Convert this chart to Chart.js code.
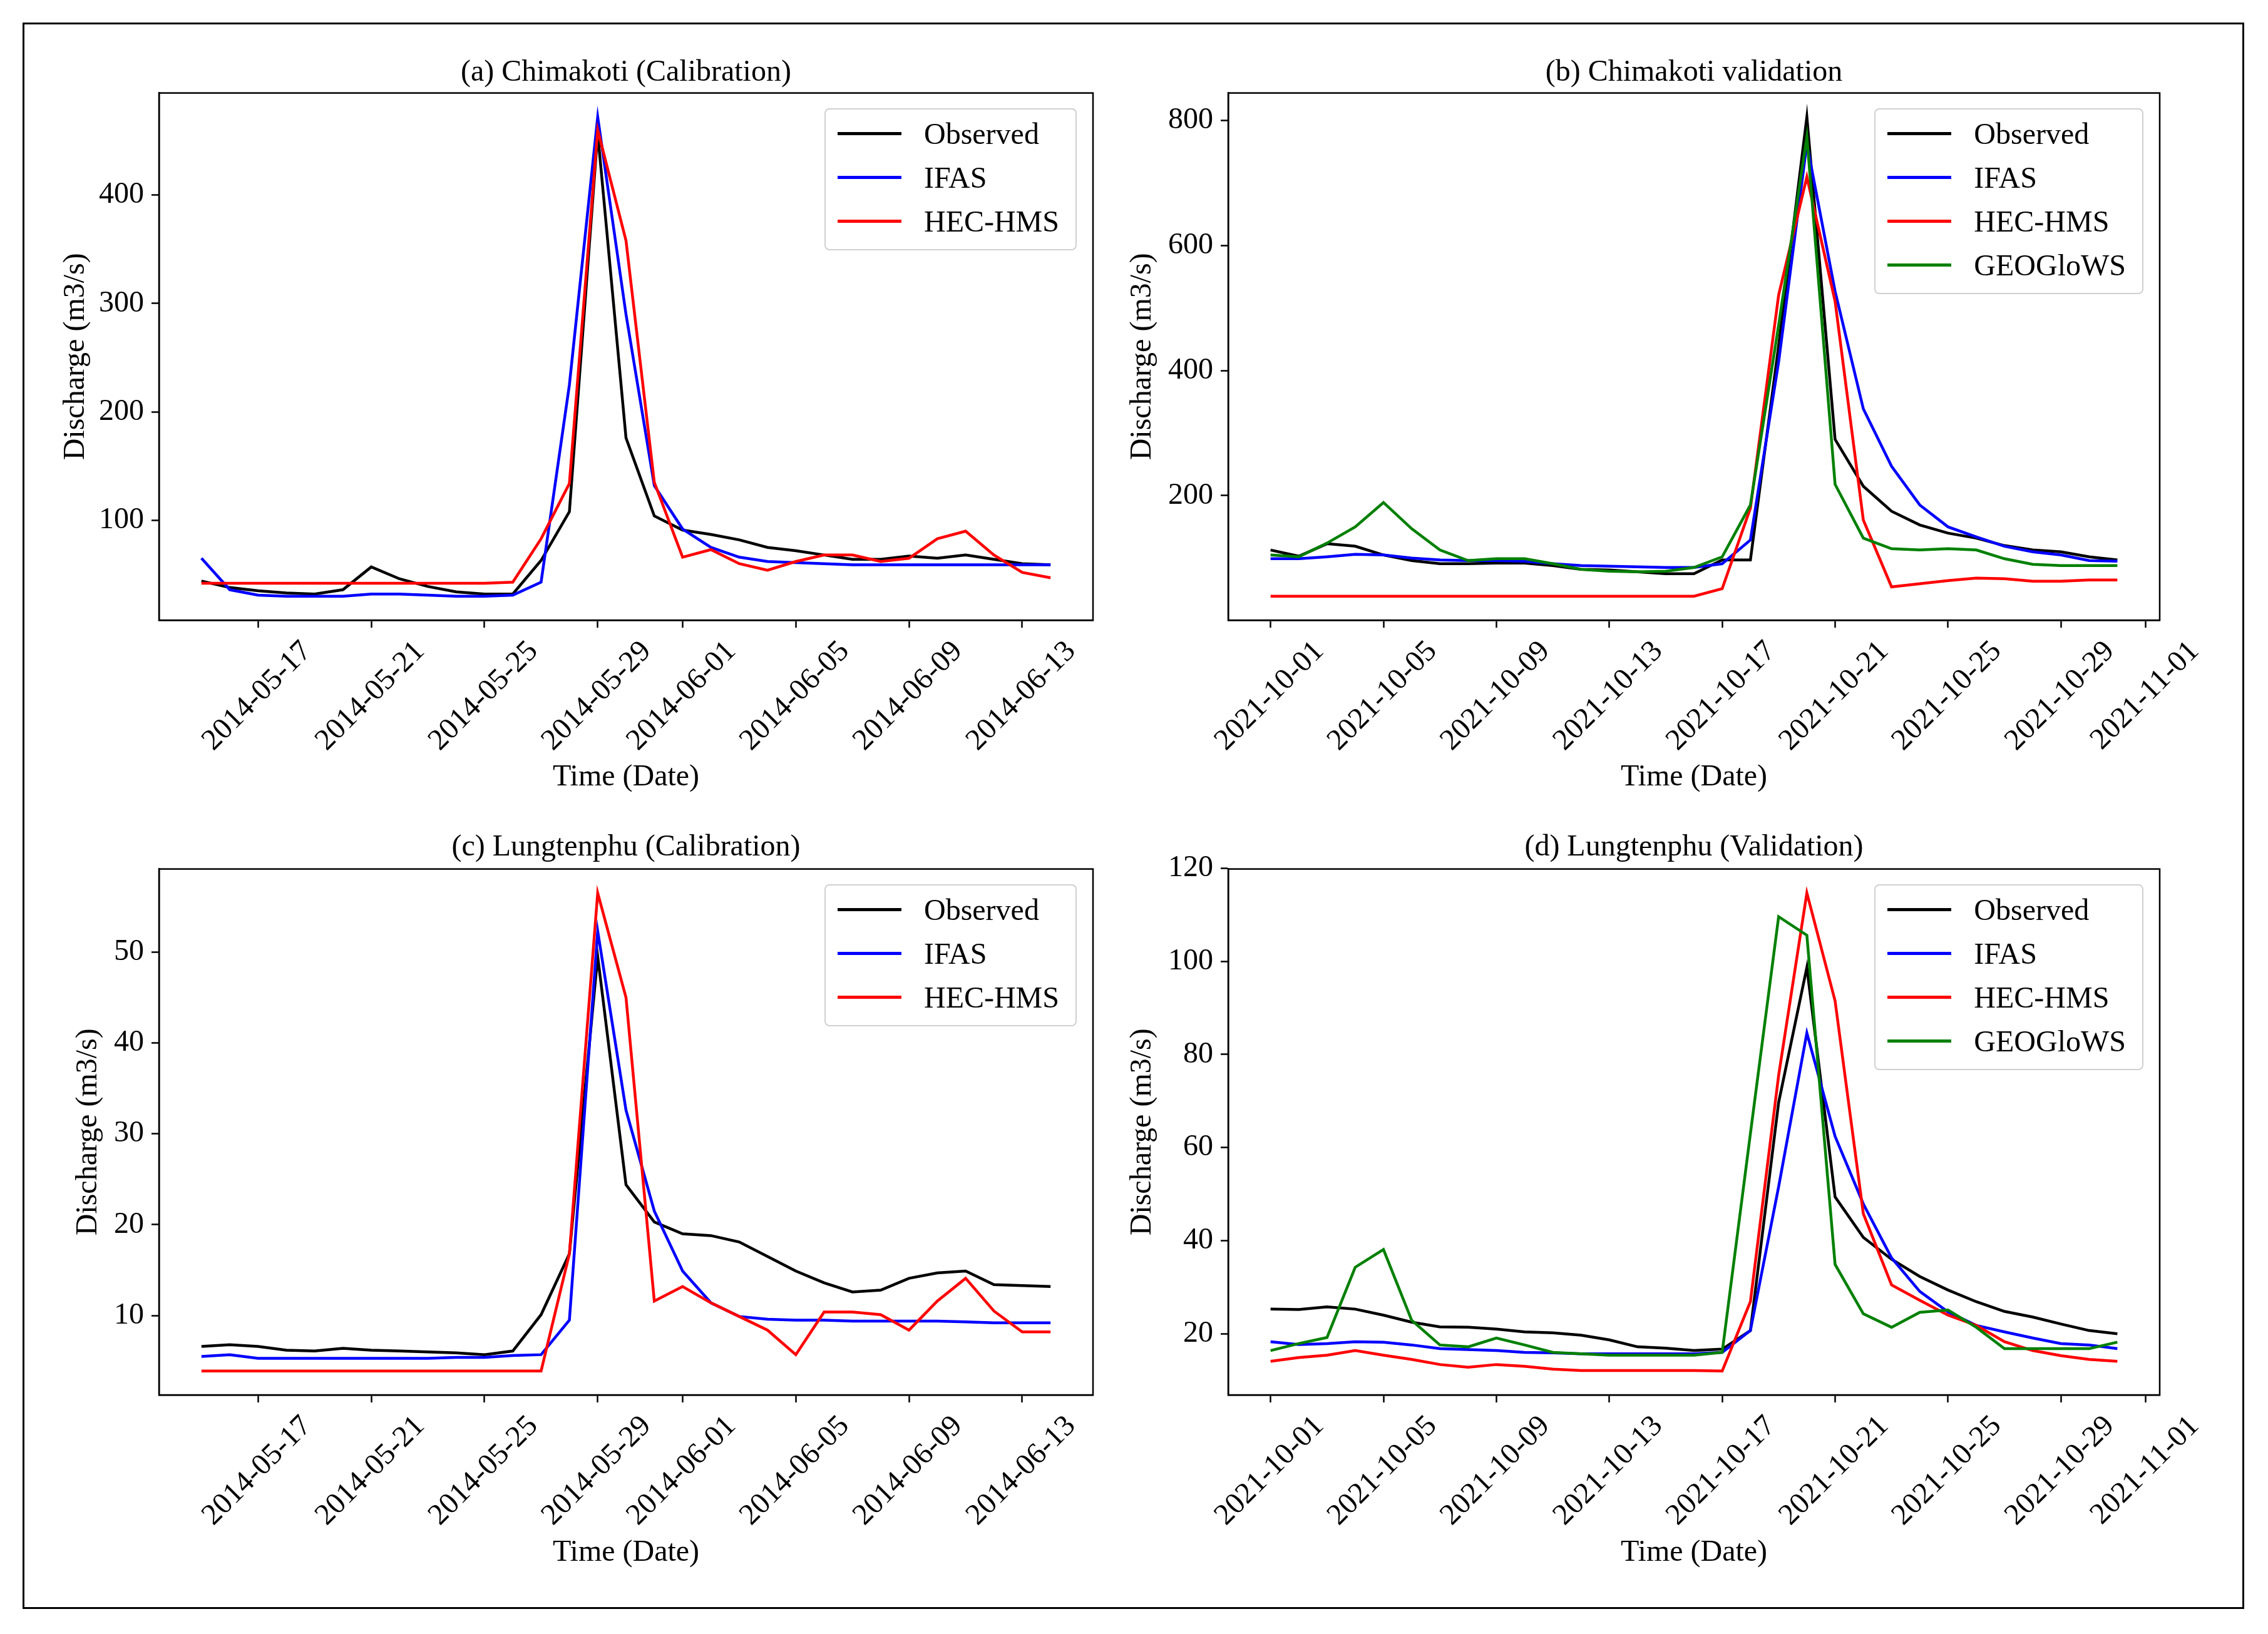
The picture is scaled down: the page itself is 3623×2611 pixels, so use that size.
<!DOCTYPE html>
<html>
<head>
<meta charset="utf-8">
<title>Discharge hydrographs</title>
<script src="https://cdn.jsdelivr.net/npm/chart.js@4.4.1/dist/chart.umd.min.js"></script>
<style>
  html, body { margin: 0; padding: 0; background: #fff; }
  body { width: 3623px; height: 2611px; position: relative; overflow: hidden; font-family: "Liberation Serif", serif; }
  .frame { position: absolute; left: 36px; top: 36px; width: 3549px; height: 2535px; border: 3px solid #000; box-sizing: border-box; }
  .panel { position: absolute; }
  .legend { position: absolute; background: rgba(255,255,255,0.85); border: 2px solid #d0d0d0; border-radius: 8px; padding: 4px 26px 9px 19px; }
  .legend .row { height: 70px; display: flex; align-items: center; font-size: 48px; color: #000; white-space: nowrap; }
  .legend .swatch { display: inline-block; width: 102px; height: 5px; margin-right: 36px; }
</style>
</head>
<body>
<div class="frame"></div>
<script>
// x: one value per day, starting at these dates
const calStart = '2014-05-15';
const valStart = '2021-10-01';

const calTicks = ['2014-05-17', '2014-05-21', '2014-05-25', '2014-05-29', '2014-06-01', '2014-06-05', '2014-06-09', '2014-06-13'];
const valTicks = ['2021-10-01', '2021-10-05', '2021-10-09', '2021-10-13', '2021-10-17', '2021-10-21', '2021-10-25', '2021-10-29', '2021-11-01'];

const yTicksA = [100, 200, 300, 400];
const yTicksB = [200, 400, 600, 800];
const yTicksC = [10, 20, 30, 40, 50];
const yTicksD = [20, 40, 60, 80, 100, 120];

// (a) Chimakoti calibration
const chimCalObserved = [44, 38, 35, 33, 32, 36, 57, 46, 39, 34, 32, 32, 63, 108, 457, 176, 104, 91, 87, 82, 75, 72, 68, 64, 64, 67, 65, 68, 64, 60, 59];
const chimCalIFAS = [65, 36, 31, 30, 30, 30, 32, 32, 31, 30, 30, 31, 43, 225, 472, 290, 132, 92, 75, 66, 62, 61, 60, 59, 59, 59, 59, 59, 59, 59, 59];
const chimCalHEC = [42, 42, 42, 42, 42, 42, 42, 42, 42, 42, 42, 43, 83, 134, 460, 358, 135, 66, 73, 60, 54, 62, 68, 68, 62, 65, 83, 90, 68, 52, 47];

// (b) Chimakoti validation
const chimValObserved = [113, 103, 123, 119, 105, 96, 91, 91, 92, 92, 88, 82, 81, 78, 75, 75, 97, 97, 440, 806, 290, 215, 175, 153, 140, 132, 120, 113, 110, 102, 97];
const chimValIFAS = [99, 99, 102, 106, 105, 100, 97, 96, 96, 95, 91, 88, 87, 86, 85, 85, 91, 129, 414, 763, 527, 339, 247, 185, 150, 134, 119, 110, 105, 96, 95];
const chimValHEC = [39, 39, 39, 39, 39, 39, 39, 39, 39, 39, 39, 39, 39, 39, 39, 39, 51, 180, 521, 710, 511, 161, 54, 59, 64, 68, 67, 63, 63, 65, 65];
const chimValGEO = [105, 102, 124, 150, 189, 147, 113, 96, 99, 99, 91, 82, 79, 78, 79, 85, 102, 185, 473, 774, 218, 132, 115, 113, 115, 113, 99, 90, 88, 88, 88];

// (c) Lungtenphu calibration
const lungCalObserved = [6.6, 6.8, 6.6, 6.2, 6.1, 6.4, 6.2, 6.1, 6.0, 5.9, 5.7, 6.1, 10.1, 16.8, 49.5, 24.4, 20.3, 19.0, 18.8, 18.1, 16.5, 14.9, 13.6, 12.6, 12.8, 14.1, 14.7, 14.9, 13.4, 13.3, 13.2];
const lungCalIFAS = [5.5, 5.7, 5.3, 5.3, 5.3, 5.3, 5.3, 5.3, 5.3, 5.4, 5.4, 5.6, 5.7, 9.5, 52.3, 32.6, 21.5, 14.9, 11.4, 9.9, 9.6, 9.5, 9.5, 9.4, 9.4, 9.4, 9.4, 9.3, 9.2, 9.2, 9.2];
const lungCalHEC = [3.9, 3.9, 3.9, 3.9, 3.9, 3.9, 3.9, 3.9, 3.9, 3.9, 3.9, 3.9, 3.9, 16.8, 56.5, 45.0, 11.6, 13.2, 11.4, 9.9, 8.4, 5.7, 10.4, 10.4, 10.1, 8.4, 11.6, 14.1, 10.5, 8.2, 8.2];

// (d) Lungtenphu validation
const lungValObserved = [25.3, 25.2, 25.8, 25.3, 24.0, 22.5, 21.5, 21.4, 21.0, 20.4, 20.2, 19.7, 18.7, 17.2, 16.9, 16.4, 16.7, 20.7, 69.7, 98.7, 49.4, 40.7, 36.0, 32.3, 29.4, 26.9, 24.8, 23.6, 22.1, 20.7, 20.0];
const lungValIFAS = [18.3, 17.7, 17.9, 18.3, 18.2, 17.6, 16.8, 16.6, 16.4, 16.0, 15.9, 15.7, 15.7, 15.7, 15.7, 15.7, 16.0, 20.7, 51.6, 84.6, 62.4, 47.9, 36.3, 29.1, 24.7, 21.8, 20.4, 19.1, 17.9, 17.6, 16.8];
const lungValHEC = [14.1, 14.9, 15.4, 16.4, 15.4, 14.5, 13.4, 12.8, 13.4, 13.0, 12.4, 12.1, 12.1, 12.1, 12.1, 12.1, 12.0, 26.9, 75.5, 114.7, 91.5, 45.8, 30.5, 27.2, 24.0, 21.8, 18.3, 16.4, 15.3, 14.5, 14.1];
const lungValGEO = [16.4, 17.9, 19.2, 34.3, 38.1, 22.9, 17.6, 17.2, 19.1, 17.6, 16.0, 15.7, 15.4, 15.4, 15.4, 15.4, 16.0, 63.0, 109.6, 105.6, 34.9, 24.3, 21.4, 24.6, 25.1, 21.4, 16.8, 16.8, 16.8, 16.8, 18.2];

const COLORS = { Observed: '#000000', IFAS: '#0000ff', 'HEC-HMS': '#ff0000', GEOGloWS: '#008000' };

Chart.defaults.font.family = '"Liberation Serif", "Times New Roman", serif';
Chart.defaults.font.size = 48;
Chart.defaults.color = '#000';

const panels = [
  { left: 60, top: 60, width: 1730, height: 1231, yWidth: 194, padRight: 44, yTitlePad: 33, titlePad: { top: 28, bottom: 3 }, xTitlePad: 20,
    title: '(a) Chimakoti (Calibration)', start: calStart, ticks: calTicks, yTicks: yTicksA,
    series: [['Observed', chimCalObserved], ['IFAS', chimCalIFAS], ['HEC-HMS', chimCalHEC]] },
  { left: 1770, top: 60, width: 1800, height: 1231, yWidth: 192, padRight: 120, yTitlePad: 27, titlePad: { top: 28, bottom: 3 }, xTitlePad: 20,
    title: '(b) Chimakoti validation', start: valStart, ticks: valTicks, yTicks: yTicksB,
    series: [['Observed', chimValObserved], ['IFAS', chimValIFAS], ['HEC-HMS', chimValHEC], ['GEOGloWS', chimValGEO]] },
  { left: 60, top: 1296, width: 1730, height: 1233, yWidth: 194, padRight: 44, yTitlePad: 53, titlePad: { top: 30, bottom: 5 }, xTitlePad: 19,
    title: '(c) Lungtenphu (Calibration)', start: calStart, ticks: calTicks, yTicks: yTicksC,
    series: [['Observed', lungCalObserved], ['IFAS', lungCalIFAS], ['HEC-HMS', lungCalHEC]] },
  { left: 1770, top: 1296, width: 1800, height: 1233, yWidth: 192, padRight: 120, yTitlePad: 27, titlePad: { top: 30, bottom: 5 }, xTitlePad: 19,
    title: '(d) Lungtenphu (Validation)', start: valStart, ticks: valTicks, yTicks: yTicksD,
    series: [['Observed', lungValObserved], ['IFAS', lungValIFAS], ['HEC-HMS', lungValHEC], ['GEOGloWS', lungValGEO]] },
];

const DAY = 86400000;
const dayOffset = (from, to) => Math.round((Date.parse(to) - Date.parse(from)) / DAY);

// closes the axes box (top and right spines)
const spines = {
  id: 'spines',
  afterDatasetsDraw(chart) {
    const { ctx, chartArea: a } = chart;
    ctx.save();
    ctx.strokeStyle = '#000';
    ctx.lineWidth = 2.5;
    ctx.strokeRect(a.left, a.top, a.right - a.left, a.bottom - a.top);
    ctx.restore();
  }
};

function addLegend(wrap, chart) {
  const box = document.createElement('div');
  box.className = 'legend';
  chart.data.datasets.forEach(ds => {
    const row = document.createElement('div');
    row.className = 'row';
    const sw = document.createElement('span');
    sw.className = 'swatch';
    sw.style.background = ds.borderColor;
    const tx = document.createElement('span');
    tx.textContent = ds.label;
    row.append(sw, tx);
    box.append(row);
  });
  const area = chart.chartArea;
  box.style.right = (chart.width - area.right + 26) + 'px';
  box.style.top = (area.top + 24) + 'px';
  wrap.append(box);
}

panels.forEach(p => {
  const wrap = document.createElement('div');
  wrap.className = 'panel';
  Object.assign(wrap.style, { left: p.left + 'px', top: p.top + 'px', width: p.width + 'px', height: p.height + 'px' });
  const canvas = document.createElement('canvas');
  wrap.append(canvas);
  document.body.append(wrap);

  const n = p.series[0][1].length;
  const all = p.series.flatMap(s => s[1]);
  const lo = Math.min(...all), hi = Math.max(...all);
  const yPad = (hi - lo) * 0.05, xPad = (n - 1) * 0.05;
  const tickPos = p.ticks.map(t => dayOffset(p.start, t));

  const datasets = p.series.map(([label, values], k) => ({
    label,
    data: values.map((v, i) => ({ x: i, y: v })),
    borderColor: COLORS[label],
    backgroundColor: COLORS[label],
    borderWidth: 4.5,
    pointRadius: 0,
    tension: 0,
    fill: false,
    order: p.series.length - k,
  }));

  const axisGrid = { drawOnChartArea: false, drawTicks: true, tickLength: 12, tickWidth: 2.5, tickColor: '#000' };
  const axisBorder = { display: true, color: '#000', width: 2.5 };

  const chart = new Chart(canvas, {
    type: 'line',
    data: { datasets },
    options: {
      responsive: true,
      maintainAspectRatio: false,
      animation: false,
      layout: { padding: { left: 0, top: 0, right: p.padRight, bottom: 0 } },
      plugins: {
        legend: { display: false },
        tooltip: { enabled: false },
        title: { display: true, fullSize: false, text: p.title, padding: p.titlePad, font: { size: 48, weight: 'normal' }, color: '#000' },
      },
      scales: {
        x: {
          type: 'linear',
          bounds: 'data',
          min: -xPad,
          max: n - 1 + xPad,
          afterBuildTicks: axis => { axis.ticks = tickPos.map(v => ({ value: v })); },
          afterFit: axis => { axis.height = 300; },
          ticks: { autoSkip: false, minRotation: 45, maxRotation: 45, labelOffset: 78, padding: 10, callback: (v, i) => p.ticks[i] },
          grid: axisGrid,
          border: axisBorder,
          title: { display: true, text: 'Time (Date)', padding: { top: 0, bottom: p.xTitlePad } },
        },
        y: {
          type: 'linear',
          bounds: 'data',
          min: lo - yPad,
          max: hi + yPad,
          afterBuildTicks: axis => { axis.ticks = p.yTicks.map(v => ({ value: v })); },
          afterFit: axis => { axis.width = p.yWidth; },
          ticks: { padding: 12, callback: v => String(v) },
          grid: axisGrid,
          border: axisBorder,
          title: { display: true, text: 'Discharge (m3/s)', padding: { top: p.yTitlePad, bottom: 0 } },
        },
      },
    },
    plugins: [spines],
  });

  addLegend(wrap, chart);
});
</script>
</body>
</html>
